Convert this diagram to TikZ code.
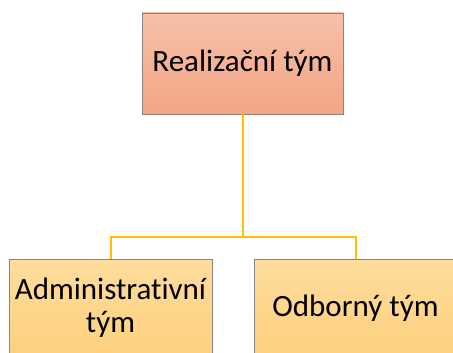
\documentclass[tikz,border=0pt]{standalone}
\usepackage{fontspec}
\setmainfont{Carlito}[Ligatures={NoCommon,NoRare}]
\definecolor{topA}{HTML}{F6C0A8}
\definecolor{topB}{HTML}{F4A585}
\definecolor{botA}{HTML}{FEDD9E}
\definecolor{botB}{HTML}{FDD07C}
\definecolor{edge}{HTML}{8F847C}
\definecolor{conn}{HTML}{FFC000}
\tikzset{
  topbox/.style={draw=edge, line width=0.9pt, top color=topA, bottom color=topB, minimum width=201pt, minimum height=101pt, inner sep=0pt, font=\fontsize{31}{33}\selectfont, align=center},
  botbox/.style={draw=edge, line width=0.9pt, top color=botA, bottom color=botB, minimum width=203pt, minimum height=98pt, inner sep=0pt, font=\fontsize{31}{33}\selectfont, align=center},
  link/.style={draw=conn, line width=2pt}
}
\begin{document}
\begin{tikzpicture}[x=1pt,y=-1pt]
\useasboundingbox (0,0) rectangle (453,353);
\clip (0,0) rectangle (453,353);
\node[topbox] (top) at (242.5,63.5) {Realizační tým};
\node[botbox] (left) at (110.5,308) {Administrativní\\tým};
\node[botbox] (right) at (355.5,308) {Odborný tým};
\coordinate (mid) at (242.5,237);
\draw[link] (top.south) -- (mid) -| (left.north);
\draw[link] (mid) -| (right.north);
\end{tikzpicture}
\end{document}
